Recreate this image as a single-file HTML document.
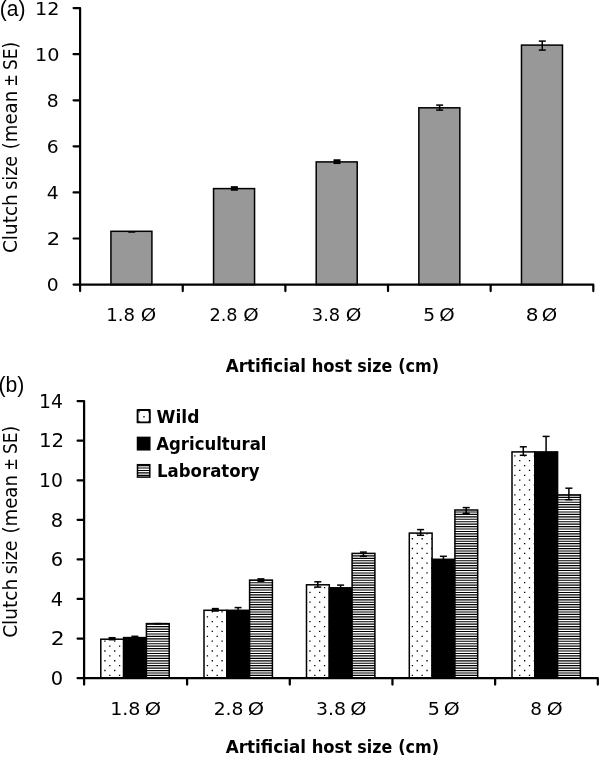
<!DOCTYPE html>
<html lang="en">
<head>
<meta charset="utf-8">
<title>Clutch size vs artificial host size</title>
<style>
html,body{margin:0;padding:0;background:#fff;}
body{width:600px;height:760px;overflow:hidden;}
svg{display:block;}
text{font-family:"DejaVu Sans Condensed", "Liberation Sans", sans-serif;fill:#000;}
</style>
</head>
<body>
<svg width="600" height="760" viewBox="0 0 600 760">
<rect width="600" height="760" fill="#fff"/>

<g id="chart-a">
<rect x="110.92" y="231.3" width="41.0" height="53.30" fill="#989898" stroke="#000" stroke-width="1.5"/>
<rect x="128.22" y="231.05" width="7" height="1.70" fill="#000"/>
<rect x="213.56" y="188.6" width="41.0" height="96.00" fill="#989898" stroke="#000" stroke-width="1.5"/>
<rect x="230.86" y="186.15" width="7" height="4.60" fill="#000"/>
<rect x="316.20" y="161.9" width="41.0" height="122.70" fill="#989898" stroke="#000" stroke-width="1.5"/>
<rect x="333.50" y="159.25" width="7" height="4.80" fill="#000"/>
<rect x="418.84" y="107.8" width="41.0" height="176.80" fill="#989898" stroke="#000" stroke-width="1.5"/>
<line x1="439.64" y1="105.1" x2="439.64" y2="110.1" stroke="#000" stroke-width="1.5"/>
<line x1="436.14" y1="105.1" x2="443.14" y2="105.1" stroke="#000" stroke-width="1.5"/>
<line x1="436.14" y1="110.1" x2="443.14" y2="110.1" stroke="#000" stroke-width="1.5"/>
<rect x="521.48" y="45.1" width="41.0" height="239.50" fill="#989898" stroke="#000" stroke-width="1.5"/>
<line x1="542.28" y1="41.1" x2="542.28" y2="50.1" stroke="#000" stroke-width="1.5"/>
<line x1="538.78" y1="41.1" x2="545.78" y2="41.1" stroke="#000" stroke-width="1.5"/>
<line x1="538.78" y1="50.1" x2="545.78" y2="50.1" stroke="#000" stroke-width="1.5"/>
<path d="M73.56 8.12H80.1V291.04M73.56 284.60H80.1M73.56 238.52H80.1M73.56 192.44H80.1M73.56 146.36H80.1M73.56 100.28H80.1M73.56 54.20H80.1M80.1 284.6H593.30V291.04M182.74 284.6V291.04M285.38 284.6V291.04M388.02 284.6V291.04M490.66 284.6V291.04" fill="none" stroke="#000" stroke-width="2.2" stroke-linejoin="round" stroke-linecap="round"/>
<text x="46.87" y="291.2" font-size="18.4" textLength="11.94" lengthAdjust="spacingAndGlyphs">0</text>
<text x="46.73" y="245.12" font-size="18.4" textLength="13.43" lengthAdjust="spacingAndGlyphs">2</text>
<text x="46.87" y="199.04" font-size="18.4" textLength="11.94" lengthAdjust="spacingAndGlyphs">4</text>
<text x="46.87" y="152.96" font-size="18.4" textLength="11.94" lengthAdjust="spacingAndGlyphs">6</text>
<text x="46.87" y="106.88" font-size="18.4" textLength="11.94" lengthAdjust="spacingAndGlyphs">8</text>
<text x="34.98" y="60.8" font-size="18.4" textLength="24.46" lengthAdjust="spacingAndGlyphs">10</text>
<text x="34.98" y="14.72" font-size="18.4" textLength="24.46" lengthAdjust="spacingAndGlyphs">12</text>
<text y="320.5" font-size="17.8"><tspan x="106.24" textLength="28.76" lengthAdjust="spacingAndGlyphs">1.8</tspan> <tspan x="140.77" textLength="15.46" lengthAdjust="spacingAndGlyphs">Ø</tspan></text>
<text y="320.5" font-size="17.8"><tspan x="209.40" textLength="28.09" lengthAdjust="spacingAndGlyphs">2.8</tspan> <tspan x="243.27" textLength="15.46" lengthAdjust="spacingAndGlyphs">Ø</tspan></text>
<text y="320.5" font-size="17.8"><tspan x="311.89" textLength="28.30" lengthAdjust="spacingAndGlyphs">3.8</tspan> <tspan x="345.75" textLength="15.68" lengthAdjust="spacingAndGlyphs">Ø</tspan></text>
<text y="320.5" font-size="17.8"><tspan x="423.34" textLength="11.84" lengthAdjust="spacingAndGlyphs">5</tspan> <tspan x="439.27" textLength="15.46" lengthAdjust="spacingAndGlyphs">Ø</tspan></text>
<text y="320.5" font-size="17.8"><tspan x="525.75" textLength="12.73" lengthAdjust="spacingAndGlyphs">8</tspan> <tspan x="541.77" textLength="15.46" lengthAdjust="spacingAndGlyphs">Ø</tspan></text>
<text y="371.7" font-size="18.2" font-weight="bold"><tspan x="225.70" textLength="80.28" lengthAdjust="spacingAndGlyphs">Artificial</tspan> <tspan x="311.70" textLength="40.47" lengthAdjust="spacingAndGlyphs">host</tspan> <tspan x="357.33" textLength="34.86" lengthAdjust="spacingAndGlyphs">size</tspan> <tspan x="398.27" textLength="40.83" lengthAdjust="spacingAndGlyphs">(cm)</tspan></text>
<text y="16.9" font-size="19.4" transform="rotate(-90)"><tspan x="-253.06" textLength="58.83" lengthAdjust="spacingAndGlyphs">Clutch</tspan> <tspan x="-189.80" textLength="33.84" lengthAdjust="spacingAndGlyphs">size</tspan> <tspan x="-149.24" textLength="58.38" lengthAdjust="spacingAndGlyphs">(mean</tspan> <tspan x="-86.47" textLength="12.23" lengthAdjust="spacingAndGlyphs">±</tspan> <tspan x="-69.97" textLength="28.16" lengthAdjust="spacingAndGlyphs">SE)</tspan></text>
<text x="-0.2" y="15.7" font-size="22" textLength="25.7" lengthAdjust="spacingAndGlyphs" style='font-family:"Liberation Sans",sans-serif'>(a)</text>
</g>
<g id="chart-b">
<rect x="100.8" y="639.2" width="22.8" height="38.95" fill="#fff"/>
<path fill="#000" d="M104.30 640.57h1.30v1.30h-1.30zM114.06 640.57h1.30v1.30h-1.30zM104.30 650.33h1.30v1.30h-1.30zM114.06 650.33h1.30v1.30h-1.30zM104.30 660.09h1.30v1.30h-1.30zM114.06 660.09h1.30v1.30h-1.30zM104.30 669.85h1.30v1.30h-1.30zM114.06 669.85h1.30v1.30h-1.30zM109.18 645.45h1.30v1.30h-1.30zM118.94 645.45h1.30v1.30h-1.30zM109.18 655.21h1.30v1.30h-1.30zM118.94 655.21h1.30v1.30h-1.30zM109.18 664.97h1.30v1.30h-1.30zM118.94 664.97h1.30v1.30h-1.30zM109.18 674.73h1.30v1.30h-1.30zM118.94 674.73h1.30v1.30h-1.30z"/>
<rect x="100.8" y="639.2" width="22.8" height="38.95" fill="none" stroke="#000" stroke-width="1.5"/>
<rect x="123.6" y="637.6" width="22.8" height="40.55" fill="#000" stroke="#000" stroke-width="1.5"/>
<rect x="146.4" y="623.6" width="22.8" height="54.55" fill="#fff"/>
<path fill="#000" d="M146.40 623.62h22.80v1.15h-22.80zM146.40 626.07h22.80v1.15h-22.80zM146.40 628.50h22.80v1.15h-22.80zM146.40 630.95h22.80v1.15h-22.80zM146.40 633.39h22.80v1.15h-22.80zM146.40 635.83h22.80v1.15h-22.80zM146.40 638.27h22.80v1.15h-22.80zM146.40 640.71h22.80v1.15h-22.80zM146.40 643.15h22.80v1.15h-22.80zM146.40 645.59h22.80v1.15h-22.80zM146.40 648.03h22.80v1.15h-22.80zM146.40 650.47h22.80v1.15h-22.80zM146.40 652.91h22.80v1.15h-22.80zM146.40 655.35h22.80v1.15h-22.80zM146.40 657.79h22.80v1.15h-22.80zM146.40 660.23h22.80v1.15h-22.80zM146.40 662.67h22.80v1.15h-22.80zM146.40 665.11h22.80v1.15h-22.80zM146.40 667.55h22.80v1.15h-22.80zM146.40 669.99h22.80v1.15h-22.80zM146.40 672.43h22.80v1.15h-22.80zM146.40 674.87h22.80v1.15h-22.80zM146.40 677.31h22.80v0.84h-22.80z"/>
<rect x="146.4" y="623.6" width="22.8" height="54.55" fill="none" stroke="#000" stroke-width="1.5"/>
<rect x="108.60" y="636.95" width="7" height="3.50" fill="#000"/>
<line x1="134.9" y1="636.3" x2="134.9" y2="637.9" stroke="#000" stroke-width="1.5"/>
<line x1="131.4" y1="636.3" x2="138.4" y2="636.3" stroke="#000" stroke-width="1.5"/>
<rect x="154.20" y="622.85" width="7" height="1.70" fill="#000"/>
<rect x="204.0" y="610.3" width="22.8" height="67.85" fill="#fff"/>
<path fill="#000" d="M211.66 611.29h1.30v1.30h-1.30zM221.42 611.29h1.30v1.30h-1.30zM211.66 621.05h1.30v1.30h-1.30zM221.42 621.05h1.30v1.30h-1.30zM211.66 630.81h1.30v1.30h-1.30zM221.42 630.81h1.30v1.30h-1.30zM211.66 640.57h1.30v1.30h-1.30zM221.42 640.57h1.30v1.30h-1.30zM211.66 650.33h1.30v1.30h-1.30zM221.42 650.33h1.30v1.30h-1.30zM211.66 660.09h1.30v1.30h-1.30zM221.42 660.09h1.30v1.30h-1.30zM211.66 669.85h1.30v1.30h-1.30zM221.42 669.85h1.30v1.30h-1.30zM206.78 616.17h1.30v1.30h-1.30zM216.54 616.17h1.30v1.30h-1.30zM226.30 616.17h0.50v1.30h-0.50zM206.78 625.93h1.30v1.30h-1.30zM216.54 625.93h1.30v1.30h-1.30zM226.30 625.93h0.50v1.30h-0.50zM206.78 635.69h1.30v1.30h-1.30zM216.54 635.69h1.30v1.30h-1.30zM226.30 635.69h0.50v1.30h-0.50zM206.78 645.45h1.30v1.30h-1.30zM216.54 645.45h1.30v1.30h-1.30zM226.30 645.45h0.50v1.30h-0.50zM206.78 655.21h1.30v1.30h-1.30zM216.54 655.21h1.30v1.30h-1.30zM226.30 655.21h0.50v1.30h-0.50zM206.78 664.97h1.30v1.30h-1.30zM216.54 664.97h1.30v1.30h-1.30zM226.30 664.97h0.50v1.30h-0.50zM206.78 674.73h1.30v1.30h-1.30zM216.54 674.73h1.30v1.30h-1.30zM226.30 674.73h0.50v1.30h-0.50z"/>
<rect x="204.0" y="610.3" width="22.8" height="67.85" fill="none" stroke="#000" stroke-width="1.5"/>
<rect x="226.8" y="610.3" width="22.8" height="67.85" fill="#000" stroke="#000" stroke-width="1.5"/>
<rect x="249.6" y="580.1" width="22.8" height="98.05" fill="#fff"/>
<path fill="#000" d="M249.60 580.10h22.80v0.75h-22.80zM249.60 582.15h22.80v1.15h-22.80zM249.60 584.59h22.80v1.15h-22.80zM249.60 587.03h22.80v1.15h-22.80zM249.60 589.47h22.80v1.15h-22.80zM249.60 591.91h22.80v1.15h-22.80zM249.60 594.35h22.80v1.15h-22.80zM249.60 596.79h22.80v1.15h-22.80zM249.60 599.23h22.80v1.15h-22.80zM249.60 601.67h22.80v1.15h-22.80zM249.60 604.11h22.80v1.15h-22.80zM249.60 606.55h22.80v1.15h-22.80zM249.60 608.99h22.80v1.15h-22.80zM249.60 611.43h22.80v1.15h-22.80zM249.60 613.87h22.80v1.15h-22.80zM249.60 616.31h22.80v1.15h-22.80zM249.60 618.75h22.80v1.15h-22.80zM249.60 621.19h22.80v1.15h-22.80zM249.60 623.62h22.80v1.15h-22.80zM249.60 626.07h22.80v1.15h-22.80zM249.60 628.50h22.80v1.15h-22.80zM249.60 630.95h22.80v1.15h-22.80zM249.60 633.39h22.80v1.15h-22.80zM249.60 635.83h22.80v1.15h-22.80zM249.60 638.27h22.80v1.15h-22.80zM249.60 640.71h22.80v1.15h-22.80zM249.60 643.15h22.80v1.15h-22.80zM249.60 645.59h22.80v1.15h-22.80zM249.60 648.03h22.80v1.15h-22.80zM249.60 650.47h22.80v1.15h-22.80zM249.60 652.91h22.80v1.15h-22.80zM249.60 655.35h22.80v1.15h-22.80zM249.60 657.79h22.80v1.15h-22.80zM249.60 660.23h22.80v1.15h-22.80zM249.60 662.67h22.80v1.15h-22.80zM249.60 665.11h22.80v1.15h-22.80zM249.60 667.55h22.80v1.15h-22.80zM249.60 669.99h22.80v1.15h-22.80zM249.60 672.43h22.80v1.15h-22.80zM249.60 674.87h22.80v1.15h-22.80zM249.60 677.31h22.80v0.84h-22.80z"/>
<rect x="249.6" y="580.1" width="22.8" height="98.05" fill="none" stroke="#000" stroke-width="1.5"/>
<rect x="211.80" y="607.85" width="7" height="3.90" fill="#000"/>
<line x1="238.1" y1="607.6" x2="238.1" y2="612.1" stroke="#000" stroke-width="1.5"/>
<line x1="234.6" y1="607.6" x2="241.6" y2="607.6" stroke="#000" stroke-width="1.5"/>
<rect x="257.40" y="578.15" width="7" height="3.80" fill="#000"/>
<rect x="306.5" y="584.8" width="22.8" height="93.35" fill="#fff"/>
<path fill="#000" d="M309.26 591.77h1.30v1.30h-1.30zM319.02 591.77h1.30v1.30h-1.30zM328.78 591.77h0.52v1.30h-0.52zM309.26 601.53h1.30v1.30h-1.30zM319.02 601.53h1.30v1.30h-1.30zM328.78 601.53h0.52v1.30h-0.52zM309.26 611.29h1.30v1.30h-1.30zM319.02 611.29h1.30v1.30h-1.30zM328.78 611.29h0.52v1.30h-0.52zM309.26 621.05h1.30v1.30h-1.30zM319.02 621.05h1.30v1.30h-1.30zM328.78 621.05h0.52v1.30h-0.52zM309.26 630.81h1.30v1.30h-1.30zM319.02 630.81h1.30v1.30h-1.30zM328.78 630.81h0.52v1.30h-0.52zM309.26 640.57h1.30v1.30h-1.30zM319.02 640.57h1.30v1.30h-1.30zM328.78 640.57h0.52v1.30h-0.52zM309.26 650.33h1.30v1.30h-1.30zM319.02 650.33h1.30v1.30h-1.30zM328.78 650.33h0.52v1.30h-0.52zM309.26 660.09h1.30v1.30h-1.30zM319.02 660.09h1.30v1.30h-1.30zM328.78 660.09h0.52v1.30h-0.52zM309.26 669.85h1.30v1.30h-1.30zM319.02 669.85h1.30v1.30h-1.30zM328.78 669.85h0.52v1.30h-0.52zM314.14 586.89h1.30v1.30h-1.30zM323.90 586.89h1.30v1.30h-1.30zM314.14 596.65h1.30v1.30h-1.30zM323.90 596.65h1.30v1.30h-1.30zM314.14 606.41h1.30v1.30h-1.30zM323.90 606.41h1.30v1.30h-1.30zM314.14 616.17h1.30v1.30h-1.30zM323.90 616.17h1.30v1.30h-1.30zM314.14 625.93h1.30v1.30h-1.30zM323.90 625.93h1.30v1.30h-1.30zM314.14 635.69h1.30v1.30h-1.30zM323.90 635.69h1.30v1.30h-1.30zM314.14 645.45h1.30v1.30h-1.30zM323.90 645.45h1.30v1.30h-1.30zM314.14 655.21h1.30v1.30h-1.30zM323.90 655.21h1.30v1.30h-1.30zM314.14 664.97h1.30v1.30h-1.30zM323.90 664.97h1.30v1.30h-1.30zM314.14 674.73h1.30v1.30h-1.30zM323.90 674.73h1.30v1.30h-1.30z"/>
<rect x="306.5" y="584.8" width="22.8" height="93.35" fill="none" stroke="#000" stroke-width="1.5"/>
<rect x="329.3" y="587.8" width="22.8" height="90.35" fill="#000" stroke="#000" stroke-width="1.5"/>
<rect x="352.1" y="553.4" width="22.8" height="124.75" fill="#fff"/>
<path fill="#000" d="M352.10 553.40h22.80v0.62h-22.80zM352.10 555.31h22.80v1.15h-22.80zM352.10 557.75h22.80v1.15h-22.80zM352.10 560.19h22.80v1.15h-22.80zM352.10 562.62h22.80v1.15h-22.80zM352.10 565.07h22.80v1.15h-22.80zM352.10 567.51h22.80v1.15h-22.80zM352.10 569.95h22.80v1.15h-22.80zM352.10 572.38h22.80v1.15h-22.80zM352.10 574.83h22.80v1.15h-22.80zM352.10 577.27h22.80v1.15h-22.80zM352.10 579.71h22.80v1.15h-22.80zM352.10 582.15h22.80v1.15h-22.80zM352.10 584.59h22.80v1.15h-22.80zM352.10 587.03h22.80v1.15h-22.80zM352.10 589.47h22.80v1.15h-22.80zM352.10 591.91h22.80v1.15h-22.80zM352.10 594.35h22.80v1.15h-22.80zM352.10 596.79h22.80v1.15h-22.80zM352.10 599.23h22.80v1.15h-22.80zM352.10 601.67h22.80v1.15h-22.80zM352.10 604.11h22.80v1.15h-22.80zM352.10 606.55h22.80v1.15h-22.80zM352.10 608.99h22.80v1.15h-22.80zM352.10 611.43h22.80v1.15h-22.80zM352.10 613.87h22.80v1.15h-22.80zM352.10 616.31h22.80v1.15h-22.80zM352.10 618.75h22.80v1.15h-22.80zM352.10 621.19h22.80v1.15h-22.80zM352.10 623.62h22.80v1.15h-22.80zM352.10 626.07h22.80v1.15h-22.80zM352.10 628.50h22.80v1.15h-22.80zM352.10 630.95h22.80v1.15h-22.80zM352.10 633.39h22.80v1.15h-22.80zM352.10 635.83h22.80v1.15h-22.80zM352.10 638.27h22.80v1.15h-22.80zM352.10 640.71h22.80v1.15h-22.80zM352.10 643.15h22.80v1.15h-22.80zM352.10 645.59h22.80v1.15h-22.80zM352.10 648.03h22.80v1.15h-22.80zM352.10 650.47h22.80v1.15h-22.80zM352.10 652.91h22.80v1.15h-22.80zM352.10 655.35h22.80v1.15h-22.80zM352.10 657.79h22.80v1.15h-22.80zM352.10 660.23h22.80v1.15h-22.80zM352.10 662.67h22.80v1.15h-22.80zM352.10 665.11h22.80v1.15h-22.80zM352.10 667.55h22.80v1.15h-22.80zM352.10 669.99h22.80v1.15h-22.80zM352.10 672.43h22.80v1.15h-22.80zM352.10 674.87h22.80v1.15h-22.80zM352.10 677.31h22.80v0.84h-22.80z"/>
<rect x="352.1" y="553.4" width="22.8" height="124.75" fill="none" stroke="#000" stroke-width="1.5"/>
<line x1="317.8" y1="581.8" x2="317.8" y2="587.1" stroke="#000" stroke-width="1.5"/>
<line x1="314.3" y1="581.8" x2="321.3" y2="581.8" stroke="#000" stroke-width="1.5"/>
<line x1="314.3" y1="587.1" x2="321.3" y2="587.1" stroke="#000" stroke-width="1.5"/>
<line x1="340.6" y1="585.1" x2="340.6" y2="589.5" stroke="#000" stroke-width="1.5"/>
<line x1="337.1" y1="585.1" x2="344.1" y2="585.1" stroke="#000" stroke-width="1.5"/>
<line x1="363.4" y1="552.1" x2="363.4" y2="556.3" stroke="#000" stroke-width="1.5"/>
<line x1="359.9" y1="552.1" x2="366.9" y2="552.1" stroke="#000" stroke-width="1.5"/>
<line x1="359.9" y1="556.3" x2="366.9" y2="556.3" stroke="#000" stroke-width="1.5"/>
<rect x="409.3" y="533.1" width="22.8" height="145.05" fill="#fff"/>
<path fill="#000" d="M416.62 533.21h1.30v1.30h-1.30zM426.38 533.21h1.30v1.30h-1.30zM416.62 542.97h1.30v1.30h-1.30zM426.38 542.97h1.30v1.30h-1.30zM416.62 552.73h1.30v1.30h-1.30zM426.38 552.73h1.30v1.30h-1.30zM416.62 562.49h1.30v1.30h-1.30zM426.38 562.49h1.30v1.30h-1.30zM416.62 572.25h1.30v1.30h-1.30zM426.38 572.25h1.30v1.30h-1.30zM416.62 582.01h1.30v1.30h-1.30zM426.38 582.01h1.30v1.30h-1.30zM416.62 591.77h1.30v1.30h-1.30zM426.38 591.77h1.30v1.30h-1.30zM416.62 601.53h1.30v1.30h-1.30zM426.38 601.53h1.30v1.30h-1.30zM416.62 611.29h1.30v1.30h-1.30zM426.38 611.29h1.30v1.30h-1.30zM416.62 621.05h1.30v1.30h-1.30zM426.38 621.05h1.30v1.30h-1.30zM416.62 630.81h1.30v1.30h-1.30zM426.38 630.81h1.30v1.30h-1.30zM416.62 640.57h1.30v1.30h-1.30zM426.38 640.57h1.30v1.30h-1.30zM416.62 650.33h1.30v1.30h-1.30zM426.38 650.33h1.30v1.30h-1.30zM416.62 660.09h1.30v1.30h-1.30zM426.38 660.09h1.30v1.30h-1.30zM416.62 669.85h1.30v1.30h-1.30zM426.38 669.85h1.30v1.30h-1.30zM411.74 538.09h1.30v1.30h-1.30zM421.50 538.09h1.30v1.30h-1.30zM431.26 538.09h0.84v1.30h-0.84zM411.74 547.85h1.30v1.30h-1.30zM421.50 547.85h1.30v1.30h-1.30zM431.26 547.85h0.84v1.30h-0.84zM411.74 557.61h1.30v1.30h-1.30zM421.50 557.61h1.30v1.30h-1.30zM431.26 557.61h0.84v1.30h-0.84zM411.74 567.37h1.30v1.30h-1.30zM421.50 567.37h1.30v1.30h-1.30zM431.26 567.37h0.84v1.30h-0.84zM411.74 577.13h1.30v1.30h-1.30zM421.50 577.13h1.30v1.30h-1.30zM431.26 577.13h0.84v1.30h-0.84zM411.74 586.89h1.30v1.30h-1.30zM421.50 586.89h1.30v1.30h-1.30zM431.26 586.89h0.84v1.30h-0.84zM411.74 596.65h1.30v1.30h-1.30zM421.50 596.65h1.30v1.30h-1.30zM431.26 596.65h0.84v1.30h-0.84zM411.74 606.41h1.30v1.30h-1.30zM421.50 606.41h1.30v1.30h-1.30zM431.26 606.41h0.84v1.30h-0.84zM411.74 616.17h1.30v1.30h-1.30zM421.50 616.17h1.30v1.30h-1.30zM431.26 616.17h0.84v1.30h-0.84zM411.74 625.93h1.30v1.30h-1.30zM421.50 625.93h1.30v1.30h-1.30zM431.26 625.93h0.84v1.30h-0.84zM411.74 635.69h1.30v1.30h-1.30zM421.50 635.69h1.30v1.30h-1.30zM431.26 635.69h0.84v1.30h-0.84zM411.74 645.45h1.30v1.30h-1.30zM421.50 645.45h1.30v1.30h-1.30zM431.26 645.45h0.84v1.30h-0.84zM411.74 655.21h1.30v1.30h-1.30zM421.50 655.21h1.30v1.30h-1.30zM431.26 655.21h0.84v1.30h-0.84zM411.74 664.97h1.30v1.30h-1.30zM421.50 664.97h1.30v1.30h-1.30zM431.26 664.97h0.84v1.30h-0.84zM411.74 674.73h1.30v1.30h-1.30zM421.50 674.73h1.30v1.30h-1.30zM431.26 674.73h0.84v1.30h-0.84z"/>
<rect x="409.3" y="533.1" width="22.8" height="145.05" fill="none" stroke="#000" stroke-width="1.5"/>
<rect x="432.1" y="559.3" width="22.8" height="118.85" fill="#000" stroke="#000" stroke-width="1.5"/>
<rect x="454.9" y="510.0" width="22.8" height="168.15" fill="#fff"/>
<path fill="#000" d="M454.90 510.00h22.80v0.10h-22.80zM454.90 511.39h22.80v1.15h-22.80zM454.90 513.83h22.80v1.15h-22.80zM454.90 516.27h22.80v1.15h-22.80zM454.90 518.71h22.80v1.15h-22.80zM454.90 521.15h22.80v1.15h-22.80zM454.90 523.59h22.80v1.15h-22.80zM454.90 526.03h22.80v1.15h-22.80zM454.90 528.47h22.80v1.15h-22.80zM454.90 530.91h22.80v1.15h-22.80zM454.90 533.35h22.80v1.15h-22.80zM454.90 535.79h22.80v1.15h-22.80zM454.90 538.23h22.80v1.15h-22.80zM454.90 540.67h22.80v1.15h-22.80zM454.90 543.11h22.80v1.15h-22.80zM454.90 545.55h22.80v1.15h-22.80zM454.90 547.99h22.80v1.15h-22.80zM454.90 550.43h22.80v1.15h-22.80zM454.90 552.87h22.80v1.15h-22.80zM454.90 555.31h22.80v1.15h-22.80zM454.90 557.75h22.80v1.15h-22.80zM454.90 560.19h22.80v1.15h-22.80zM454.90 562.62h22.80v1.15h-22.80zM454.90 565.07h22.80v1.15h-22.80zM454.90 567.51h22.80v1.15h-22.80zM454.90 569.95h22.80v1.15h-22.80zM454.90 572.38h22.80v1.15h-22.80zM454.90 574.83h22.80v1.15h-22.80zM454.90 577.27h22.80v1.15h-22.80zM454.90 579.71h22.80v1.15h-22.80zM454.90 582.15h22.80v1.15h-22.80zM454.90 584.59h22.80v1.15h-22.80zM454.90 587.03h22.80v1.15h-22.80zM454.90 589.47h22.80v1.15h-22.80zM454.90 591.91h22.80v1.15h-22.80zM454.90 594.35h22.80v1.15h-22.80zM454.90 596.79h22.80v1.15h-22.80zM454.90 599.23h22.80v1.15h-22.80zM454.90 601.67h22.80v1.15h-22.80zM454.90 604.11h22.80v1.15h-22.80zM454.90 606.55h22.80v1.15h-22.80zM454.90 608.99h22.80v1.15h-22.80zM454.90 611.43h22.80v1.15h-22.80zM454.90 613.87h22.80v1.15h-22.80zM454.90 616.31h22.80v1.15h-22.80zM454.90 618.75h22.80v1.15h-22.80zM454.90 621.19h22.80v1.15h-22.80zM454.90 623.62h22.80v1.15h-22.80zM454.90 626.07h22.80v1.15h-22.80zM454.90 628.50h22.80v1.15h-22.80zM454.90 630.95h22.80v1.15h-22.80zM454.90 633.39h22.80v1.15h-22.80zM454.90 635.83h22.80v1.15h-22.80zM454.90 638.27h22.80v1.15h-22.80zM454.90 640.71h22.80v1.15h-22.80zM454.90 643.15h22.80v1.15h-22.80zM454.90 645.59h22.80v1.15h-22.80zM454.90 648.03h22.80v1.15h-22.80zM454.90 650.47h22.80v1.15h-22.80zM454.90 652.91h22.80v1.15h-22.80zM454.90 655.35h22.80v1.15h-22.80zM454.90 657.79h22.80v1.15h-22.80zM454.90 660.23h22.80v1.15h-22.80zM454.90 662.67h22.80v1.15h-22.80zM454.90 665.11h22.80v1.15h-22.80zM454.90 667.55h22.80v1.15h-22.80zM454.90 669.99h22.80v1.15h-22.80zM454.90 672.43h22.80v1.15h-22.80zM454.90 674.87h22.80v1.15h-22.80zM454.90 677.31h22.80v0.84h-22.80z"/>
<rect x="454.9" y="510.0" width="22.8" height="168.15" fill="none" stroke="#000" stroke-width="1.5"/>
<line x1="420.6" y1="529.6" x2="420.6" y2="535.3" stroke="#000" stroke-width="1.5"/>
<line x1="417.1" y1="529.6" x2="424.1" y2="529.6" stroke="#000" stroke-width="1.5"/>
<line x1="417.1" y1="535.3" x2="424.1" y2="535.3" stroke="#000" stroke-width="1.5"/>
<line x1="443.4" y1="556.3" x2="443.4" y2="561.3" stroke="#000" stroke-width="1.5"/>
<line x1="439.9" y1="556.3" x2="446.9" y2="556.3" stroke="#000" stroke-width="1.5"/>
<line x1="466.2" y1="507.6" x2="466.2" y2="513.3" stroke="#000" stroke-width="1.5"/>
<line x1="462.7" y1="507.6" x2="469.7" y2="507.6" stroke="#000" stroke-width="1.5"/>
<line x1="462.7" y1="513.3" x2="469.7" y2="513.3" stroke="#000" stroke-width="1.5"/>
<rect x="512.0" y="451.9" width="22.8" height="226.25" fill="#fff"/>
<path fill="#000" d="M514.22 455.13h1.30v1.30h-1.30zM523.98 455.13h1.30v1.30h-1.30zM533.74 455.13h1.06v1.30h-1.06zM514.22 464.89h1.30v1.30h-1.30zM523.98 464.89h1.30v1.30h-1.30zM533.74 464.89h1.06v1.30h-1.06zM514.22 474.65h1.30v1.30h-1.30zM523.98 474.65h1.30v1.30h-1.30zM533.74 474.65h1.06v1.30h-1.06zM514.22 484.41h1.30v1.30h-1.30zM523.98 484.41h1.30v1.30h-1.30zM533.74 484.41h1.06v1.30h-1.06zM514.22 494.17h1.30v1.30h-1.30zM523.98 494.17h1.30v1.30h-1.30zM533.74 494.17h1.06v1.30h-1.06zM514.22 503.93h1.30v1.30h-1.30zM523.98 503.93h1.30v1.30h-1.30zM533.74 503.93h1.06v1.30h-1.06zM514.22 513.69h1.30v1.30h-1.30zM523.98 513.69h1.30v1.30h-1.30zM533.74 513.69h1.06v1.30h-1.06zM514.22 523.45h1.30v1.30h-1.30zM523.98 523.45h1.30v1.30h-1.30zM533.74 523.45h1.06v1.30h-1.06zM514.22 533.21h1.30v1.30h-1.30zM523.98 533.21h1.30v1.30h-1.30zM533.74 533.21h1.06v1.30h-1.06zM514.22 542.97h1.30v1.30h-1.30zM523.98 542.97h1.30v1.30h-1.30zM533.74 542.97h1.06v1.30h-1.06zM514.22 552.73h1.30v1.30h-1.30zM523.98 552.73h1.30v1.30h-1.30zM533.74 552.73h1.06v1.30h-1.06zM514.22 562.49h1.30v1.30h-1.30zM523.98 562.49h1.30v1.30h-1.30zM533.74 562.49h1.06v1.30h-1.06zM514.22 572.25h1.30v1.30h-1.30zM523.98 572.25h1.30v1.30h-1.30zM533.74 572.25h1.06v1.30h-1.06zM514.22 582.01h1.30v1.30h-1.30zM523.98 582.01h1.30v1.30h-1.30zM533.74 582.01h1.06v1.30h-1.06zM514.22 591.77h1.30v1.30h-1.30zM523.98 591.77h1.30v1.30h-1.30zM533.74 591.77h1.06v1.30h-1.06zM514.22 601.53h1.30v1.30h-1.30zM523.98 601.53h1.30v1.30h-1.30zM533.74 601.53h1.06v1.30h-1.06zM514.22 611.29h1.30v1.30h-1.30zM523.98 611.29h1.30v1.30h-1.30zM533.74 611.29h1.06v1.30h-1.06zM514.22 621.05h1.30v1.30h-1.30zM523.98 621.05h1.30v1.30h-1.30zM533.74 621.05h1.06v1.30h-1.06zM514.22 630.81h1.30v1.30h-1.30zM523.98 630.81h1.30v1.30h-1.30zM533.74 630.81h1.06v1.30h-1.06zM514.22 640.57h1.30v1.30h-1.30zM523.98 640.57h1.30v1.30h-1.30zM533.74 640.57h1.06v1.30h-1.06zM514.22 650.33h1.30v1.30h-1.30zM523.98 650.33h1.30v1.30h-1.30zM533.74 650.33h1.06v1.30h-1.06zM514.22 660.09h1.30v1.30h-1.30zM523.98 660.09h1.30v1.30h-1.30zM533.74 660.09h1.06v1.30h-1.06zM514.22 669.85h1.30v1.30h-1.30zM523.98 669.85h1.30v1.30h-1.30zM533.74 669.85h1.06v1.30h-1.06zM519.10 460.01h1.30v1.30h-1.30zM528.86 460.01h1.30v1.30h-1.30zM519.10 469.77h1.30v1.30h-1.30zM528.86 469.77h1.30v1.30h-1.30zM519.10 479.53h1.30v1.30h-1.30zM528.86 479.53h1.30v1.30h-1.30zM519.10 489.29h1.30v1.30h-1.30zM528.86 489.29h1.30v1.30h-1.30zM519.10 499.05h1.30v1.30h-1.30zM528.86 499.05h1.30v1.30h-1.30zM519.10 508.81h1.30v1.30h-1.30zM528.86 508.81h1.30v1.30h-1.30zM519.10 518.57h1.30v1.30h-1.30zM528.86 518.57h1.30v1.30h-1.30zM519.10 528.33h1.30v1.30h-1.30zM528.86 528.33h1.30v1.30h-1.30zM519.10 538.09h1.30v1.30h-1.30zM528.86 538.09h1.30v1.30h-1.30zM519.10 547.85h1.30v1.30h-1.30zM528.86 547.85h1.30v1.30h-1.30zM519.10 557.61h1.30v1.30h-1.30zM528.86 557.61h1.30v1.30h-1.30zM519.10 567.37h1.30v1.30h-1.30zM528.86 567.37h1.30v1.30h-1.30zM519.10 577.13h1.30v1.30h-1.30zM528.86 577.13h1.30v1.30h-1.30zM519.10 586.89h1.30v1.30h-1.30zM528.86 586.89h1.30v1.30h-1.30zM519.10 596.65h1.30v1.30h-1.30zM528.86 596.65h1.30v1.30h-1.30zM519.10 606.41h1.30v1.30h-1.30zM528.86 606.41h1.30v1.30h-1.30zM519.10 616.17h1.30v1.30h-1.30zM528.86 616.17h1.30v1.30h-1.30zM519.10 625.93h1.30v1.30h-1.30zM528.86 625.93h1.30v1.30h-1.30zM519.10 635.69h1.30v1.30h-1.30zM528.86 635.69h1.30v1.30h-1.30zM519.10 645.45h1.30v1.30h-1.30zM528.86 645.45h1.30v1.30h-1.30zM519.10 655.21h1.30v1.30h-1.30zM528.86 655.21h1.30v1.30h-1.30zM519.10 664.97h1.30v1.30h-1.30zM528.86 664.97h1.30v1.30h-1.30zM519.10 674.73h1.30v1.30h-1.30zM528.86 674.73h1.30v1.30h-1.30z"/>
<rect x="512.0" y="451.9" width="22.8" height="226.25" fill="none" stroke="#000" stroke-width="1.5"/>
<rect x="534.8" y="451.9" width="22.8" height="226.25" fill="#000" stroke="#000" stroke-width="1.5"/>
<rect x="557.6" y="494.9" width="22.8" height="183.25" fill="#fff"/>
<path fill="#000" d="M557.60 494.90h22.80v0.56h-22.80zM557.60 496.75h22.80v1.15h-22.80zM557.60 499.19h22.80v1.15h-22.80zM557.60 501.63h22.80v1.15h-22.80zM557.60 504.07h22.80v1.15h-22.80zM557.60 506.51h22.80v1.15h-22.80zM557.60 508.95h22.80v1.15h-22.80zM557.60 511.39h22.80v1.15h-22.80zM557.60 513.83h22.80v1.15h-22.80zM557.60 516.27h22.80v1.15h-22.80zM557.60 518.71h22.80v1.15h-22.80zM557.60 521.15h22.80v1.15h-22.80zM557.60 523.59h22.80v1.15h-22.80zM557.60 526.03h22.80v1.15h-22.80zM557.60 528.47h22.80v1.15h-22.80zM557.60 530.91h22.80v1.15h-22.80zM557.60 533.35h22.80v1.15h-22.80zM557.60 535.79h22.80v1.15h-22.80zM557.60 538.23h22.80v1.15h-22.80zM557.60 540.67h22.80v1.15h-22.80zM557.60 543.11h22.80v1.15h-22.80zM557.60 545.55h22.80v1.15h-22.80zM557.60 547.99h22.80v1.15h-22.80zM557.60 550.43h22.80v1.15h-22.80zM557.60 552.87h22.80v1.15h-22.80zM557.60 555.31h22.80v1.15h-22.80zM557.60 557.75h22.80v1.15h-22.80zM557.60 560.19h22.80v1.15h-22.80zM557.60 562.62h22.80v1.15h-22.80zM557.60 565.07h22.80v1.15h-22.80zM557.60 567.51h22.80v1.15h-22.80zM557.60 569.95h22.80v1.15h-22.80zM557.60 572.38h22.80v1.15h-22.80zM557.60 574.83h22.80v1.15h-22.80zM557.60 577.27h22.80v1.15h-22.80zM557.60 579.71h22.80v1.15h-22.80zM557.60 582.15h22.80v1.15h-22.80zM557.60 584.59h22.80v1.15h-22.80zM557.60 587.03h22.80v1.15h-22.80zM557.60 589.47h22.80v1.15h-22.80zM557.60 591.91h22.80v1.15h-22.80zM557.60 594.35h22.80v1.15h-22.80zM557.60 596.79h22.80v1.15h-22.80zM557.60 599.23h22.80v1.15h-22.80zM557.60 601.67h22.80v1.15h-22.80zM557.60 604.11h22.80v1.15h-22.80zM557.60 606.55h22.80v1.15h-22.80zM557.60 608.99h22.80v1.15h-22.80zM557.60 611.43h22.80v1.15h-22.80zM557.60 613.87h22.80v1.15h-22.80zM557.60 616.31h22.80v1.15h-22.80zM557.60 618.75h22.80v1.15h-22.80zM557.60 621.19h22.80v1.15h-22.80zM557.60 623.62h22.80v1.15h-22.80zM557.60 626.07h22.80v1.15h-22.80zM557.60 628.50h22.80v1.15h-22.80zM557.60 630.95h22.80v1.15h-22.80zM557.60 633.39h22.80v1.15h-22.80zM557.60 635.83h22.80v1.15h-22.80zM557.60 638.27h22.80v1.15h-22.80zM557.60 640.71h22.80v1.15h-22.80zM557.60 643.15h22.80v1.15h-22.80zM557.60 645.59h22.80v1.15h-22.80zM557.60 648.03h22.80v1.15h-22.80zM557.60 650.47h22.80v1.15h-22.80zM557.60 652.91h22.80v1.15h-22.80zM557.60 655.35h22.80v1.15h-22.80zM557.60 657.79h22.80v1.15h-22.80zM557.60 660.23h22.80v1.15h-22.80zM557.60 662.67h22.80v1.15h-22.80zM557.60 665.11h22.80v1.15h-22.80zM557.60 667.55h22.80v1.15h-22.80zM557.60 669.99h22.80v1.15h-22.80zM557.60 672.43h22.80v1.15h-22.80zM557.60 674.87h22.80v1.15h-22.80zM557.60 677.31h22.80v0.84h-22.80z"/>
<rect x="557.6" y="494.9" width="22.8" height="183.25" fill="none" stroke="#000" stroke-width="1.5"/>
<line x1="523.3" y1="446.8" x2="523.3" y2="455.3" stroke="#000" stroke-width="1.5"/>
<line x1="519.8" y1="446.8" x2="526.8" y2="446.8" stroke="#000" stroke-width="1.5"/>
<line x1="519.8" y1="455.3" x2="526.8" y2="455.3" stroke="#000" stroke-width="1.5"/>
<line x1="546.1" y1="436.4" x2="546.1" y2="466.1" stroke="#000" stroke-width="1.5"/>
<line x1="542.6" y1="436.4" x2="549.6" y2="436.4" stroke="#000" stroke-width="1.5"/>
<line x1="568.9" y1="488.2" x2="568.9" y2="499.7" stroke="#000" stroke-width="1.5"/>
<line x1="565.4" y1="488.2" x2="572.4" y2="488.2" stroke="#000" stroke-width="1.5"/>
<line x1="565.4" y1="499.7" x2="572.4" y2="499.7" stroke="#000" stroke-width="1.5"/>
<path d="M77.58 401.09H84.1V684.62M77.58 678.15H84.1M77.58 638.57H84.1M77.58 598.99H84.1M77.58 559.41H84.1M77.58 519.83H84.1M77.58 480.25H84.1M77.58 440.67H84.1M84.1 678.15H597.82V684.62M187.10 678.15V684.62M289.78 678.15V684.62M392.46 678.15V684.62M495.14 678.15V684.62" fill="none" stroke="#000" stroke-width="2.25" stroke-linejoin="round" stroke-linecap="round"/>
<text x="50.86" y="684.95" font-size="18.9" textLength="12.37" lengthAdjust="spacingAndGlyphs">0</text>
<text x="50.71" y="645.37" font-size="18.9" textLength="13.92" lengthAdjust="spacingAndGlyphs">2</text>
<text x="50.86" y="605.79" font-size="18.9" textLength="12.37" lengthAdjust="spacingAndGlyphs">4</text>
<text x="50.86" y="566.21" font-size="18.9" textLength="12.37" lengthAdjust="spacingAndGlyphs">6</text>
<text x="50.86" y="526.63" font-size="18.9" textLength="12.37" lengthAdjust="spacingAndGlyphs">8</text>
<text x="39.09" y="487.05" font-size="18.9" textLength="23.90" lengthAdjust="spacingAndGlyphs">10</text>
<text x="38.97" y="447.47" font-size="18.9" textLength="25.23" lengthAdjust="spacingAndGlyphs">12</text>
<text x="39.09" y="407.89" font-size="18.9" textLength="23.90" lengthAdjust="spacingAndGlyphs">14</text>
<text y="714.5" font-size="18.4"><tspan x="110.20" textLength="30.32" lengthAdjust="spacingAndGlyphs">1.8</tspan> <tspan x="144.75" textLength="16.35" lengthAdjust="spacingAndGlyphs">Ø</tspan></text>
<text y="714.5" font-size="18.4"><tspan x="213.67" textLength="29.82" lengthAdjust="spacingAndGlyphs">2.8</tspan> <tspan x="247.75" textLength="16.35" lengthAdjust="spacingAndGlyphs">Ø</tspan></text>
<text y="714.5" font-size="18.4"><tspan x="316.06" textLength="29.93" lengthAdjust="spacingAndGlyphs">3.8</tspan> <tspan x="350.25" textLength="16.23" lengthAdjust="spacingAndGlyphs">Ø</tspan></text>
<text y="714.5" font-size="18.4"><tspan x="427.85" textLength="12.11" lengthAdjust="spacingAndGlyphs">5</tspan> <tspan x="443.77" textLength="15.99" lengthAdjust="spacingAndGlyphs">Ø</tspan></text>
<text y="714.5" font-size="18.4"><tspan x="530.39" textLength="11.70" lengthAdjust="spacingAndGlyphs">8</tspan> <tspan x="546.77" textLength="15.99" lengthAdjust="spacingAndGlyphs">Ø</tspan></text>
<text y="753.3" font-size="18.2" font-weight="bold"><tspan x="225.70" textLength="80.28" lengthAdjust="spacingAndGlyphs">Artificial</tspan> <tspan x="311.70" textLength="40.47" lengthAdjust="spacingAndGlyphs">host</tspan> <tspan x="357.33" textLength="34.86" lengthAdjust="spacingAndGlyphs">size</tspan> <tspan x="398.27" textLength="40.83" lengthAdjust="spacingAndGlyphs">(cm)</tspan></text>
<text y="16.9" font-size="19.4" transform="rotate(-90)"><tspan x="-637.86" textLength="59.06" lengthAdjust="spacingAndGlyphs">Clutch</tspan> <tspan x="-574.35" textLength="33.98" lengthAdjust="spacingAndGlyphs">size</tspan> <tspan x="-533.62" textLength="58.61" lengthAdjust="spacingAndGlyphs">(mean</tspan> <tspan x="-470.61" textLength="12.29" lengthAdjust="spacingAndGlyphs">±</tspan> <tspan x="-454.05" textLength="28.27" lengthAdjust="spacingAndGlyphs">SE)</tspan></text>
<text x="-1.6" y="391.6" font-size="22" textLength="25.9" lengthAdjust="spacingAndGlyphs" style='font-family:"Liberation Sans",sans-serif'>(b)</text>
<rect x="137.6" y="410" width="12.2" height="12.4" fill="#fff"/>
<path fill="#000" d="M143.34 416.09h1.30v1.30h-1.30zM138.46 411.21h1.30v1.30h-1.30zM148.22 411.21h1.30v1.30h-1.30zM138.46 420.97h1.30v1.30h-1.30zM148.22 420.97h1.30v1.30h-1.30z"/>
<rect x="137.6" y="410" width="12.2" height="12.4" fill="none" stroke="#000" stroke-width="1.9" stroke-linejoin="round"/>
<rect x="137.5" y="437.4" width="12.3" height="12.4" fill="#000" stroke="#000" stroke-width="1.5"/>
<rect x="137.5" y="464.7" width="12.3" height="12.4" fill="#fff"/>
<path fill="#000" d="M137.50 465.03h12.30v1.15h-12.30zM137.50 467.47h12.30v1.15h-12.30zM137.50 469.91h12.30v1.15h-12.30zM137.50 472.35h12.30v1.15h-12.30zM137.50 474.79h12.30v1.15h-12.30z"/>
<rect x="137.5" y="464.7" width="12.3" height="12.4" fill="none" stroke="#000" stroke-width="1.5"/>
<text x="156.60" y="422.6" font-size="17.5" font-weight="bold" textLength="42.88" lengthAdjust="spacingAndGlyphs">Wild</text>
<text x="156.20" y="449.7" font-size="17.5" font-weight="bold" textLength="110.33" lengthAdjust="spacingAndGlyphs">Agricultural</text>
<text x="157.05" y="476.6" font-size="17.5" font-weight="bold" textLength="102.49" lengthAdjust="spacingAndGlyphs">Laboratory</text>
</g>
</svg>
</body>
</html>
